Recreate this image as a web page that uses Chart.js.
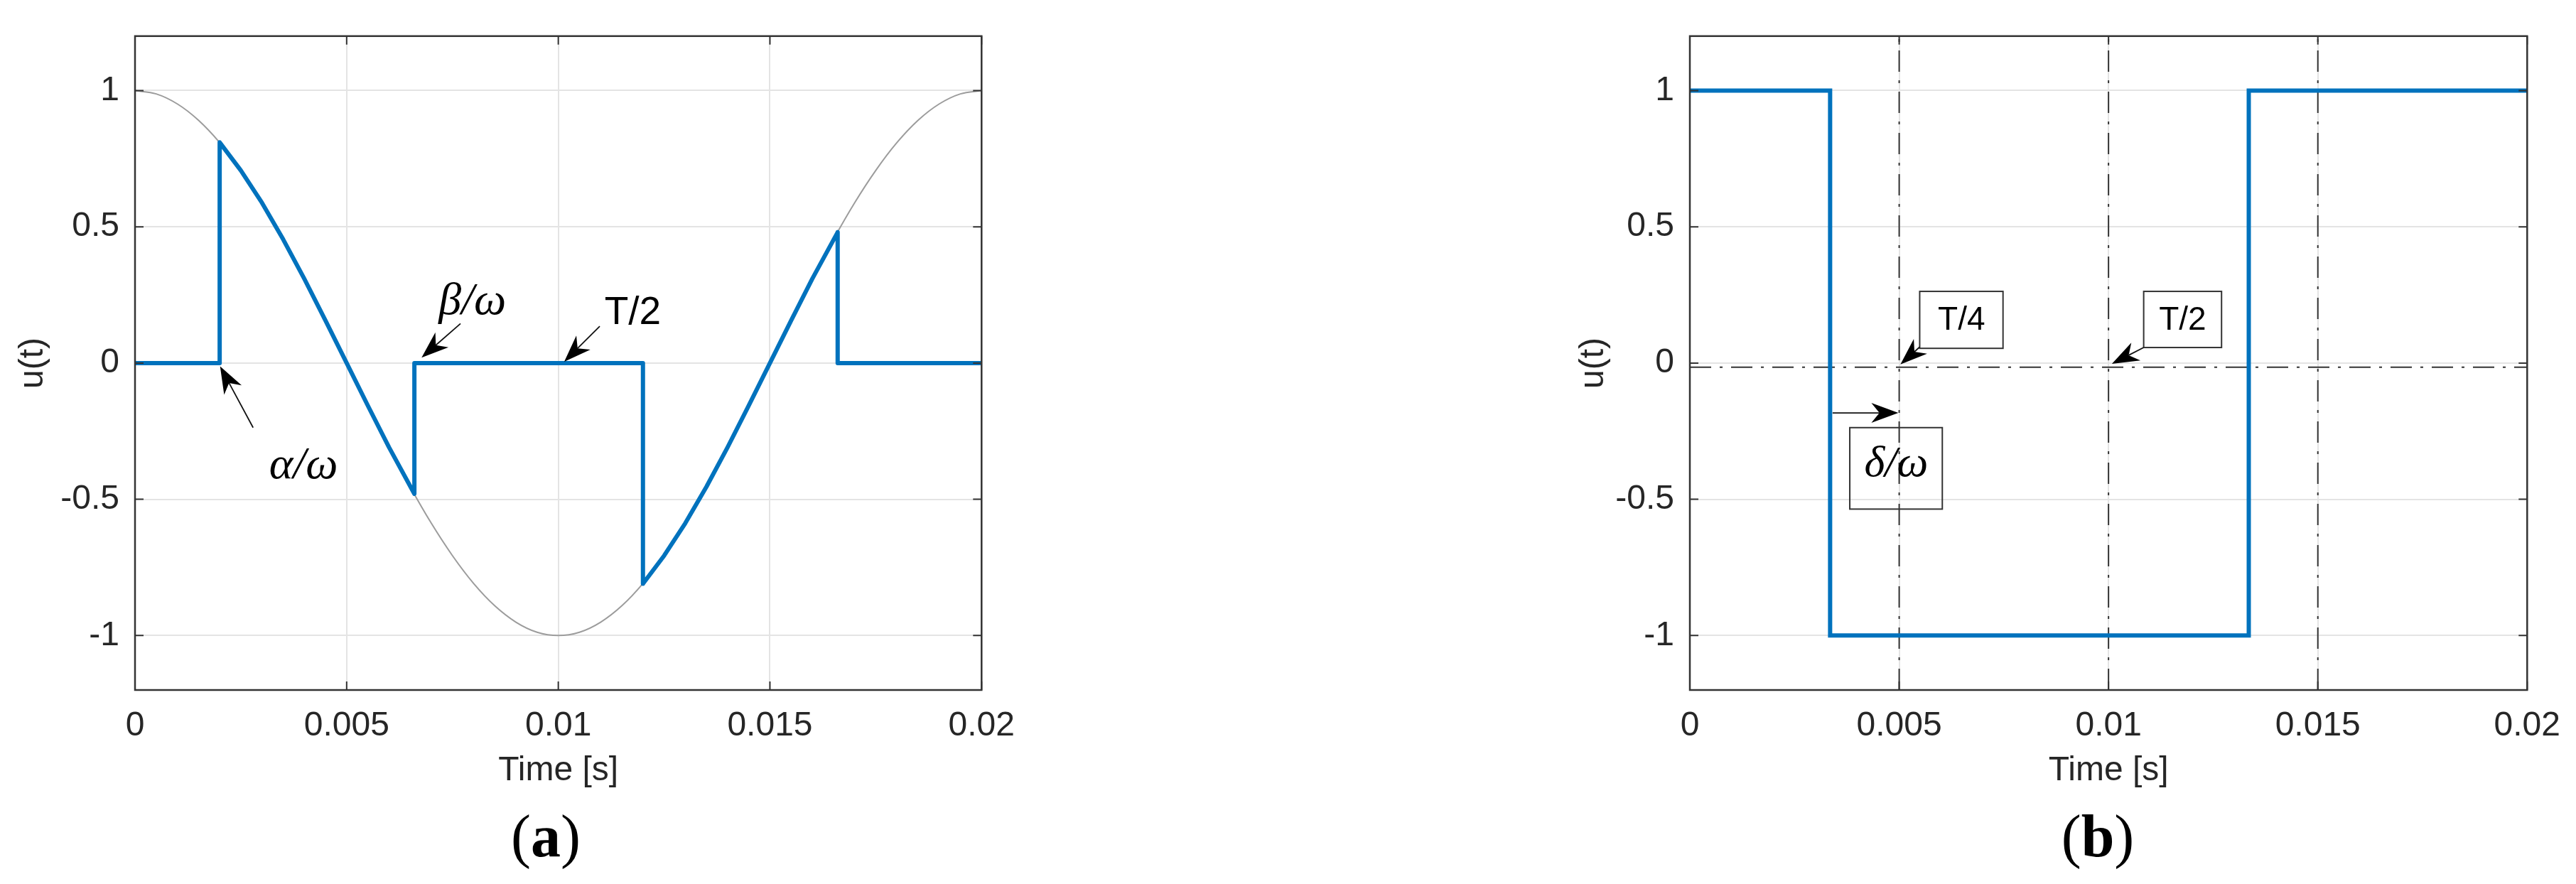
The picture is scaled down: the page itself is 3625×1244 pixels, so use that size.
<!DOCTYPE html>
<html>
<head>
<meta charset="utf-8">
<script src="https://cdn.jsdelivr.net/npm/chart.js@4.4.1/dist/chart.umd.min.js"></script>
<style>
  body { margin: 0; background: #fff; width: 3625px; height: 1244px; position: relative; overflow: hidden; }
  canvas { position: absolute; top: 0; }
  .tag { position: absolute; top: 1135px; font-family: "Liberation Serif", serif; font-size: 84px; line-height: 1; color: #000; transform: translateX(-50%); }
  .tag b { font-weight: bold; }
</style>
</head>
<body>
<canvas id="plotA" width="1450" height="1244" style="left:0px"></canvas>
<canvas id="plotB" width="1437" height="1244" style="left:2188px"></canvas>
<div class="tag" style="left:768px">(<b>a</b>)</div>
<div class="tag" style="left:2952px">(<b>b</b>)</div>
<script>
// axis ticks, same on both panels
const xTicks = [0, 0.005, 0.01, 0.015, 0.02];
const xTickLabels = ['0', '0.005', '0.01', '0.015', '0.02'];
const yTicks = [-1, -0.5, 0, 0.5, 1];
const yTickLabels = ['-1', '-0.5', '0', '0.5', '1'];

// (a) thin grey reference wave, read every 0.5 ms
const cosTime = [0, 0.0005, 0.001, 0.0015, 0.002, 0.0025, 0.003, 0.0035, 0.004, 0.0045,
  0.005, 0.0055, 0.006, 0.0065, 0.007, 0.0075, 0.008, 0.0085, 0.009, 0.0095,
  0.01, 0.0105, 0.011, 0.0115, 0.012, 0.0125, 0.013, 0.0135, 0.014, 0.0145,
  0.015, 0.0155, 0.016, 0.0165, 0.017, 0.0175, 0.018, 0.0185, 0.019, 0.0195, 0.02];
const cosU = [1, 0.988, 0.951, 0.891, 0.809, 0.707, 0.588, 0.454, 0.309, 0.156,
  0, -0.156, -0.309, -0.454, -0.588, -0.707, -0.809, -0.891, -0.951, -0.988,
  -1, -0.988, -0.951, -0.891, -0.809, -0.707, -0.588, -0.454, -0.309, -0.156,
  0, 0.156, 0.309, 0.454, 0.588, 0.707, 0.809, 0.891, 0.951, 0.988, 1];

// (a) blue chopped wave
const chopTime = [0, 0.002, 0.002, 0.0025, 0.003, 0.0035, 0.004, 0.0045, 0.005, 0.0055, 0.006, 0.0066, 0.0066,
  0.012, 0.012, 0.0125, 0.013, 0.0135, 0.014, 0.0145, 0.015, 0.0155, 0.016, 0.0166, 0.0166, 0.02];
const chopU = [0, 0, 0.81, 0.707, 0.588, 0.454, 0.309, 0.156, 0, -0.156, -0.309, -0.48, 0,
  0, -0.81, -0.707, -0.588, -0.454, -0.309, -0.156, 0, 0.156, 0.309, 0.48, 0, 0];

// (b) square wave
const squareTime = [0, 0.00335, 0.00335, 0.01335, 0.01335, 0.02];
const squareU = [1, 1, -1, -1, 1, 1];

// (b) dash-dot guides
const guideTimes = [0.005, 0.01, 0.015];
const guideLevel = -0.015;

const INK = '#262626';
const sans = size => ({ family: '"Liberation Sans", Arial, sans-serif', size: size });
const serifItalic = size => 'italic ' + size + 'px "Liberation Serif", serif';
const sansCss = size => size + 'px "Liberation Sans", Arial, sans-serif';

function pts(t, u) {
  return t.map((x, i) => ({ x: x, y: u[i] }));
}

function labelFor(list, labels, v) {
  const i = list.findIndex(t => Math.abs(t - v) < 1e-9);
  return i < 0 ? '' : labels[i];
}

// matlab style box with ticks pointing inwards
const frame = {
  id: 'frame',
  afterDatasetsDraw(chart) {
    const { ctx, chartArea: a, scales: { x, y } } = chart;
    ctx.save();
    ctx.strokeStyle = '#333';
    ctx.lineWidth = 2;
    ctx.beginPath();
    x.ticks.forEach(t => {
      const p = x.getPixelForValue(t.value);
      ctx.moveTo(p, a.bottom); ctx.lineTo(p, a.bottom - 12);
      ctx.moveTo(p, a.top); ctx.lineTo(p, a.top + 12);
    });
    y.ticks.forEach(t => {
      const p = y.getPixelForValue(t.value);
      ctx.moveTo(a.left, p); ctx.lineTo(a.left + 12, p);
      ctx.moveTo(a.right, p); ctx.lineTo(a.right - 12, p);
    });
    ctx.stroke();
    ctx.lineWidth = 2.5;
    ctx.strokeRect(a.left, a.top, a.right - a.left, a.bottom - a.top);
    ctx.restore();
  }
};

function arrow(ctx, x0, y0, x1, y1) {
  const dx = x1 - x0, dy = y1 - y0, len = Math.hypot(dx, dy);
  const ux = dx / len, uy = dy / len;
  const L = 38, W = 14;
  if (len > 0.7 * L) {
    ctx.beginPath();
    ctx.moveTo(x0, y0);
    ctx.lineTo(x1 - 0.7 * L * ux, y1 - 0.7 * L * uy);
    ctx.stroke();
  }
  ctx.beginPath();
  ctx.moveTo(x1, y1);
  ctx.lineTo(x1 - L * ux - W * uy, y1 - L * uy + W * ux);
  ctx.lineTo(x1 - 0.7 * L * ux, y1 - 0.7 * L * uy);
  ctx.lineTo(x1 - L * ux + W * uy, y1 - L * uy - W * ux);
  ctx.closePath();
  ctx.fill();
}

// arrows, labels and boxes, placed in data units
function makeNotes(items) {
  return {
    id: 'notes',
    afterDraw(chart) {
      const { ctx, scales: { x, y } } = chart;
      const px = t => x.getPixelForValue(t);
      const py = u => y.getPixelForValue(u);
      ctx.save();
      ctx.strokeStyle = '#111';
      ctx.fillStyle = '#000';
      items.forEach(it => {
        if (it.arrow) {
          ctx.lineWidth = 1.8;
          arrow(ctx, px(it.arrow[0][0]), py(it.arrow[0][1]), px(it.arrow[1][0]), py(it.arrow[1][1]));
        }
        if (it.box) {
          ctx.lineWidth = 2;
          ctx.strokeStyle = '#333';
          const l = px(it.box[0]), r = px(it.box[1]), t = py(it.box[3]), b = py(it.box[2]);
          ctx.strokeRect(l, t, r - l, b - t);
          ctx.strokeStyle = '#111';
        }
        if (it.text) {
          ctx.font = it.font;
          ctx.textAlign = 'center';
          ctx.textBaseline = 'middle';
          ctx.fillText(it.text, px(it.at[0]), py(it.at[1]));
        }
      });
      ctx.restore();
    }
  };
}

function panel(id, datasets, notes, pad, titleGap) {
  const grid = { color: '#e4e4e4', lineWidth: 2, drawTicks: false };
  new Chart(document.getElementById(id), {
    type: 'scatter',
    data: { datasets: datasets },
    options: {
      responsive: false,
      animation: false,
      events: [],
      layout: { padding: pad },
      plugins: { legend: { display: false }, tooltip: { enabled: false } },
      elements: { point: { radius: 0 }, line: { tension: 0 } },
      scales: {
        x: {
          type: 'linear', min: 0, max: 0.02,
          afterBuildTicks: s => { s.ticks = xTicks.map(v => ({ value: v })); },
          afterFit: s => { s.height = 143; },
          grid: grid,
          border: { display: false },
          ticks: {
            padding: 22, color: INK, font: sans(48), maxRotation: 0, autoSkip: false,
            callback: v => labelFor(xTicks, xTickLabels, v)
          },
          title: { display: true, text: 'Time [s]', color: INK, font: sans(48), padding: 0 }
        },
        y: {
          type: 'linear', min: -1.2, max: 1.2,
          afterBuildTicks: s => { s.ticks = yTicks.map(v => ({ value: v })); },
          afterFit: s => { s.width = 190; },
          grid: grid,
          border: { display: false },
          ticks: {
            padding: 22, color: INK, font: sans(48),
            callback: v => labelFor(yTicks, yTickLabels, v)
          },
          title: { display: true, text: 'u(t)', color: INK, font: sans(48), padding: { top: titleGap, bottom: 0 } }
        }
      }
    },
    plugins: [frame, makeNotes(notes)]
  });
}

// (a)
panel('plotA', [
  {
    data: pts(chopTime, chopU), showLine: true,
    borderColor: '#0072bd', borderWidth: 6, borderJoinStyle: 'round', pointRadius: 0
  },
  {
    data: pts(cosTime, cosU), showLine: true,
    borderColor: '#9c9c9c', borderWidth: 2, cubicInterpolationMode: 'monotone', pointRadius: 0
  }
], [
  { arrow: [[0.00279, -0.237], [0.00201, -0.012]] },
  { text: 'α/ω', at: [0.00398, -0.378], font: serifItalic(64) },
  { arrow: [[0.00769, 0.145], [0.00677, 0.02]] },
  { text: 'β/ω', at: [0.00797, 0.224], font: serifItalic(64) },
  { arrow: [[0.01098, 0.135], [0.01014, 0.005]] },
  { text: 'T/2', at: [0.01176, 0.184], font: sansCss(55) }
], { left: 0, top: 29, right: 63, bottom: 130 }, 18);

// (b)
const guides = guideTimes.map(t => ({
  data: [{ x: t, y: -1.2 }, { x: t, y: 1.2 }], showLine: true,
  borderColor: '#333', borderWidth: 2, borderDash: [30, 12, 4, 12], pointRadius: 0
}));
panel('plotB', [
  {
    data: pts(squareTime, squareU), showLine: true,
    borderColor: '#0072bd', borderWidth: 6, borderJoinStyle: 'miter', pointRadius: 0
  },
  ...guides,
  {
    data: [{ x: 0, y: guideLevel }, { x: 0.02, y: guideLevel }], showLine: true,
    borderColor: '#333', borderWidth: 2, borderDash: [30, 12, 4, 12], pointRadius: 0
  }
], [
  { box: [0.00549, 0.00748, 0.054, 0.263] },
  { text: 'T/4', at: [0.00649, 0.155], font: sansCss(46) },
  { arrow: [[0.00549, 0.059], [0.00503, -0.005]] },
  { arrow: [[0.00341, -0.183], [0.00498, -0.183]] },
  { box: [0.00382, 0.00603, -0.536, -0.237] },
  { text: 'δ/ω', at: [0.00493, -0.372], font: serifItalic(62) },
  { box: [0.01084, 0.0127, 0.057, 0.263] },
  { text: 'T/2', at: [0.01177, 0.155], font: sansCss(46) },
  { arrow: [[0.01084, 0.057], [0.01008, -0.003]] }
], { left: 0, top: 39, right: 63, bottom: 130 }, 26);
</script>
</body>
</html>
